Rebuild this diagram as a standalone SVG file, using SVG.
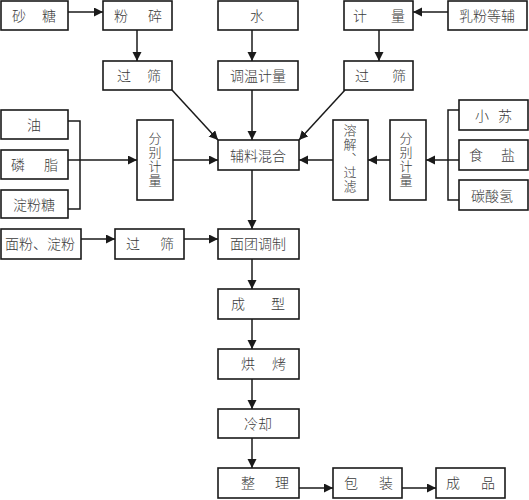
<svg xmlns="http://www.w3.org/2000/svg" width="529" height="500" viewBox="0 0 529 500">
<style>
.box{fill:#fff;stroke:#1a1a1a;stroke-width:1.6}
.t{font-family:"Noto Sans CJK SC","Noto Sans CJK JP",sans-serif;font-size:14px;font-weight:300;fill:#3a3a3a}
.m{text-anchor:middle}
.v{writing-mode:vertical-rl;font-size:13px;letter-spacing:1px;text-anchor:middle}
.c{fill:none;stroke:#1a1a1a;stroke-width:1.5}
.a{marker-end:url(#ah)}
</style>
<defs>
<marker id="ah" markerUnits="userSpaceOnUse" markerWidth="10" markerHeight="10" refX="9" refY="4.5" orient="auto">
<path d="M0,0 L9,4.5 L0,9 z" fill="#1a1a1a"/>
</marker>
</defs>
<rect width="529" height="500" fill="#fff"/>
<g id="connectors">
<line class="c a" x1="68" y1="12" x2="103" y2="12"/>
<line class="c a" x1="137" y1="30" x2="137" y2="61"/>
<line class="c a" x1="252" y1="30" x2="252" y2="61"/>
<line class="c a" x1="448" y1="12" x2="413" y2="12"/>
<line class="c a" x1="379" y1="30" x2="379" y2="61"/>
<line class="c a" x1="172" y1="90" x2="218" y2="140"/>
<line class="c a" x1="252" y1="90" x2="252" y2="140"/>
<line class="c a" x1="345" y1="90" x2="299" y2="140"/>
<polyline class="c" points="68,121 80,121 80,209 68,209"/>
<line class="c a" x1="68" y1="160" x2="137" y2="160"/>
<line class="c a" x1="173" y1="160" x2="218" y2="160"/>
<polyline class="c" points="459,110 448,110 448,200 459,200"/>
<line class="c a" x1="459" y1="160" x2="426" y2="160"/>
<line class="c a" x1="390" y1="160" x2="368" y2="160"/>
<line class="c a" x1="333" y1="160" x2="299" y2="160"/>
<line class="c a" x1="252" y1="170" x2="252" y2="229"/>
<line class="c a" x1="81" y1="239" x2="115" y2="239"/>
<line class="c a" x1="184" y1="239" x2="218" y2="239"/>
<line class="c a" x1="252" y1="259" x2="252" y2="289"/>
<line class="c a" x1="252" y1="319" x2="252" y2="349"/>
<line class="c a" x1="252" y1="379" x2="252" y2="409"/>
<line class="c a" x1="252" y1="438" x2="252" y2="468"/>
<line class="c a" x1="299" y1="488" x2="333" y2="488"/>
<line class="c a" x1="402" y1="488" x2="436" y2="488"/>
</g>
<g id="n_shatang"><rect class="box" x="1" y="1" width="67" height="29"/><text class="t m" x="19 49" y="21">砂糖</text></g>
<g id="n_fensui"><rect class="box" x="103" y="1" width="69" height="29"/><text class="t m" x="121 155" y="21">粉碎</text></g>
<g id="n_shui"><rect class="box" x="218" y="1" width="80" height="29"/><text class="t m" x="257" y="21">水</text></g>
<g id="n_jiliang"><rect class="box" x="344" y="1" width="69" height="29"/><text class="t m" x="360 398" y="21">计量</text></g>
<g id="n_rufen"><rect class="box" x="448" y="1" width="79" height="29"/><text class="t m" x="487" y="21">乳粉等辅</text></g>
<g id="n_guoshai1"><rect class="box" x="103" y="61" width="69" height="29"/><text class="t m" x="124 154" y="81">过筛</text></g>
<g id="n_tiaowen"><rect class="box" x="218" y="61" width="80" height="29"/><text class="t m" x="258" y="81">调温计量</text></g>
<g id="n_guoshai2"><rect class="box" x="344" y="61" width="69" height="29"/><text class="t m" x="362 399" y="81">过筛</text></g>
<g id="n_you"><rect class="box" x="1" y="110" width="67" height="29"/><text class="t m" x="34" y="130">油</text></g>
<g id="n_linzhi"><rect class="box" x="1" y="150" width="67" height="29"/><text class="t m" x="18 51" y="170">磷脂</text></g>
<g id="n_dianfentang"><rect class="box" x="1" y="190" width="67" height="28"/><text class="t m" x="34" y="210">淀粉糖</text></g>
<g id="n_fenbie1"><rect class="box" x="137" y="120" width="36" height="80"/><text class="t v" x="155" y="160">分别计量</text></g>
<g id="n_fuliao"><rect class="box" x="218" y="140" width="81" height="30"/><text class="t m" x="258" y="161">辅料混合</text></g>
<g id="n_rongjie"><rect class="box" x="333" y="120" width="35" height="80"/><text class="t v" x="350" y="159">溶解、过滤</text></g>
<g id="n_fenbie2"><rect class="box" x="390" y="120" width="36" height="80"/><text class="t v" x="406" y="160">分别计量</text></g>
<g id="n_xiaosu"><rect class="box" x="459" y="100" width="69" height="30"/><text class="t m" x="482 505" y="121">小苏</text></g>
<g id="n_shiyan"><rect class="box" x="459" y="140" width="69" height="30"/><text class="t m" x="476 508" y="160">食盐</text></g>
<g id="n_tansuanqing"><rect class="box" x="459" y="180" width="69" height="30"/><text class="t m" x="492" y="201">碳酸氢</text></g>
<g id="n_mianfen"><rect class="box" x="1" y="229" width="80" height="30"/><text class="t m" x="40" y="249" font-size="13">面粉、淀粉</text></g>
<g id="n_guoshai3"><rect class="box" x="115" y="229" width="69" height="30"/><text class="t m" x="133 167" y="249">过筛</text></g>
<g id="n_miantuan"><rect class="box" x="218" y="229" width="81" height="30"/><text class="t m" x="258" y="249">面团调制</text></g>
<g id="n_chengxing"><rect class="box" x="218" y="289" width="81" height="30"/><text class="t m" x="238 278" y="309">成型</text></g>
<g id="n_hongkao"><rect class="box" x="218" y="349" width="81" height="30"/><text class="t m" x="248 279" y="369">烘烤</text></g>
<g id="n_lengque"><rect class="box" x="218" y="409" width="81" height="29"/><text class="t m" x="258" y="429">冷却</text></g>
<g id="n_zhengli"><rect class="box" x="218" y="468" width="81" height="30"/><text class="t m" x="248 282" y="488">整理</text></g>
<g id="n_baozhuang"><rect class="box" x="333" y="468" width="69" height="30"/><text class="t m" x="351 386" y="488">包装</text></g>
<g id="n_chengpin"><rect class="box" x="436" y="468" width="69" height="30"/><text class="t m" x="453 488" y="488">成品</text></g>
</svg>
